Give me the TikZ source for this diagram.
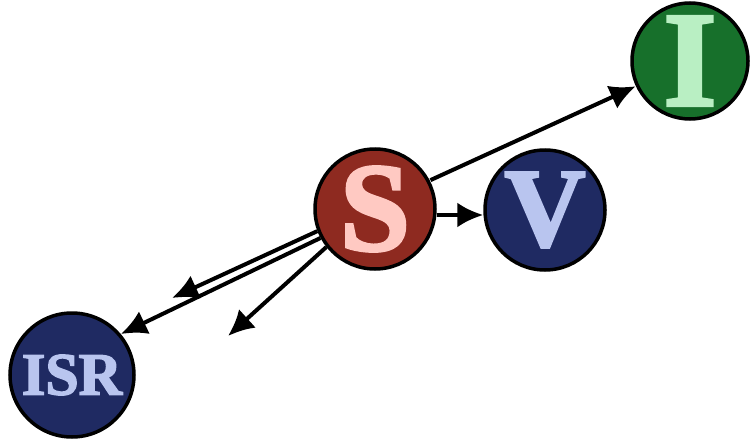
\documentclass[tikz,border=0pt]{standalone}
\usepackage{fontspec}
\setmainfont{Liberation Serif}
\newfontfamily\heavy{Liberation Serif Bold}[FakeBold=2.5]
\usetikzlibrary{arrows.meta}
\definecolor{sred}{HTML}{8E2A20}
\definecolor{spink}{HTML}{FFC9C2}
\definecolor{vblue}{HTML}{1F2A62}
\definecolor{vlight}{HTML}{B9C5EF}
\definecolor{igreen}{HTML}{17702B}
\definecolor{ilight}{HTML}{B9EFC3}
\begin{document}
\begin{tikzpicture}[x=1pt,y=-1pt,
  ball/.style={circle,draw=black,line width=3.5pt,minimum size=120pt,inner sep=0pt},
  conn/.style={line width=4pt,-{Latex[length=26pt,width=25pt]}}]
\useasboundingbox (0,0) rectangle (750,444);
\node[ball,fill=sred,text=spink,font=\heavy\fontsize{126}{126}\selectfont] (S) at (375,209) {S};
\node[ball,fill=vblue,text=vlight,font=\heavy\fontsize{112}{112}\selectfont] (V) at (545,210) {V};
\node[ball,fill=igreen,text=ilight,minimum size=116pt,font=\heavy\fontsize{136}{136}\selectfont] (I) at (690,61) {I};
\node[ball,fill=vblue,text=vlight,minimum size=124pt,font=\heavy\fontsize{60}{60}\selectfont] (ISR) at (72,375) {ISR};
\coordinate (a1) at (172,298);
\coordinate (a3) at (228,336);
\draw[conn] (S.east |- 0,215) -- (V.west |- 0,215);
\draw[conn] (S.30) ++(2,2) -- (I.205);
\draw[conn] (S.201) -- (a1);
\draw[conn] (S.208) -- (ISR.40);
\draw[conn] (S.218) -- (a3);
\end{tikzpicture}
\end{document}
